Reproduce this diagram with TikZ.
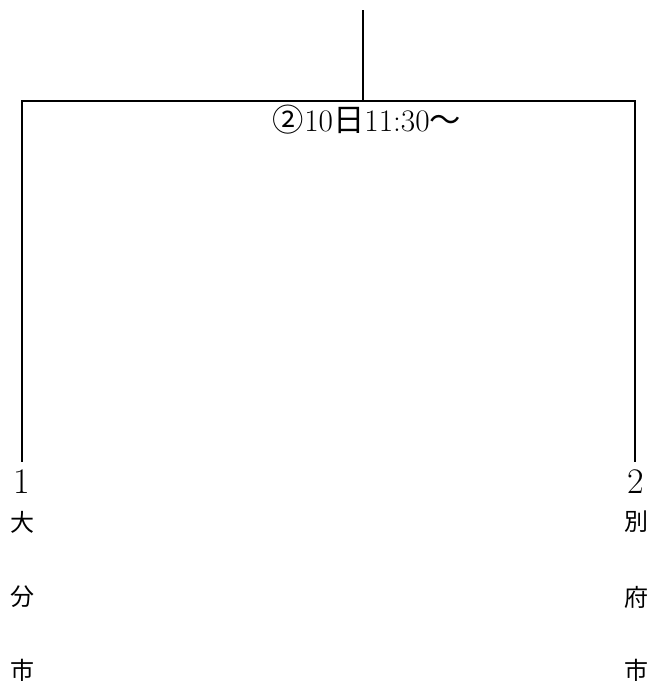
\documentclass[tikz,border=0pt]{standalone}
\usepackage{fontspec}
\newfontfamily\cjk{Noto Sans CJK JP}
\usetikzlibrary{positioning}
\tikzset{
  bracket/.style={line width=2pt, line cap=rect},
  team/.style={inner sep=0pt, font=\fontsize{27}{27}\selectfont},
  city/.style={inner sep=0pt, font=\cjk\fontsize{18}{18}\selectfont},
}
\begin{document}
\begin{tikzpicture}[x=0.75pt, y=-0.75pt]
  \useasboundingbox (0,0) rectangle (651,684);
  \coordinate (top) at (363,11);
  \coordinate (mid) at (363,101);
  \coordinate (lt) at (22,101);
  \coordinate (rt) at (635,101);
  \coordinate (lb) at (22,461);
  \coordinate (rb) at (635,461);
  \node[font=\fontsize{23.5}{23.5}\selectfont, inner sep=0pt] (game) at (367,120)
    {{\cjk ②}10{\cjk 日}11:30{\cjk ～}};
  \node[team] (t1) at (22,482) {1};
  \node[team] (t2) at (636,482) {2};
  \node[city] (a1) at (22,522) {大};
  \node[city] (a2) at (22,597) {分};
  \node[city] (a3) at (22,670) {市};
  \node[city] (b1) at (636,522) {別};
  \node[city] (b2) at (636,597) {府};
  \node[city] (b3) at (636,670) {市};
  \draw[bracket] (top) -- (mid);
  \draw[bracket] (lb) -- (lt) -- (rt) -- (rb);
\end{tikzpicture}
\end{document}
